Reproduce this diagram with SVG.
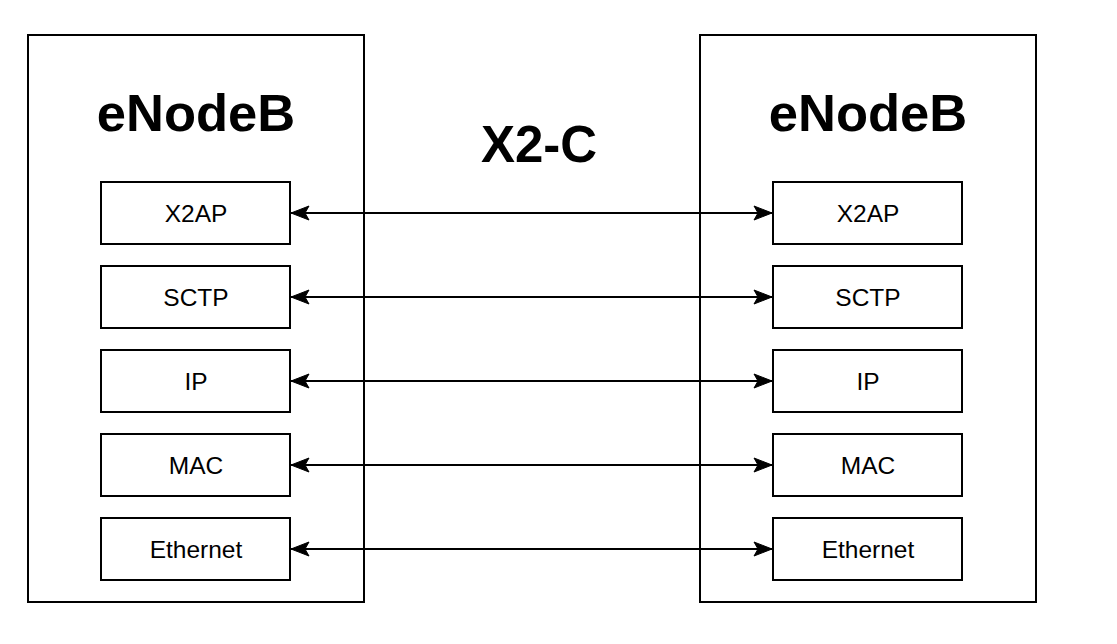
<svg xmlns="http://www.w3.org/2000/svg" width="1117" height="644" viewBox="0 0 1117 644">
<style>
.outer{fill:#fff;stroke:#000;stroke-width:2}
.layer{fill:#fff;stroke:#000;stroke-width:2}
.title{font-family:"Liberation Sans",Arial,sans-serif;font-weight:bold;font-size:52.5px;fill:#000;text-anchor:middle}
.big{font-family:"Liberation Sans",Arial,sans-serif;font-weight:bold;font-size:51px;fill:#000;text-anchor:middle}
.lbl{font-family:"Liberation Sans",Arial,sans-serif;font-size:24.5px;fill:#000;text-anchor:middle;dominant-baseline:central}
.conn{stroke:#000;stroke-width:2;fill:none;marker-start:url(#ah);marker-end:url(#ah)}
</style>
<defs>
<marker id="ah" viewBox="0 0 20 16" refX="19" refY="8" markerWidth="20" markerHeight="16" markerUnits="userSpaceOnUse" orient="auto-start-reverse">
<path d="M1,1 L19,8 L1,15 L5,8 Z" fill="#000" stroke="#000" stroke-width="1"/>
</marker>
</defs>
<rect width="1117" height="644" fill="#fff"/>
<g id="enb-left">
<rect class="outer" x="28" y="35" width="336" height="567"/>
<text class="title" x="196" y="131">eNodeB</text>
</g>
<g id="enb-right">
<rect class="outer" x="700" y="35" width="336" height="567"/>
<text class="title" x="868" y="131">eNodeB</text>
</g>
<g id="x2c-label"><text class="big" x="539" y="162">X2-C</text></g>
<g id="l-x2ap"><rect class="layer" x="101" y="182" width="189" height="62"/><text class="lbl" x="196" y="213">X2AP</text></g>
<g id="l-sctp"><rect class="layer" x="101" y="266" width="189" height="62"/><text class="lbl" x="196" y="297">SCTP</text></g>
<g id="l-ip"><rect class="layer" x="101" y="350" width="189" height="62"/><text class="lbl" x="196" y="381">IP</text></g>
<g id="l-mac"><rect class="layer" x="101" y="434" width="189" height="62"/><text class="lbl" x="196" y="465">MAC</text></g>
<g id="l-eth"><rect class="layer" x="101" y="518" width="189" height="62"/><text class="lbl" x="196" y="549">Ethernet</text></g>
<g id="r-x2ap"><rect class="layer" x="773" y="182" width="189" height="62"/><text class="lbl" x="868" y="213">X2AP</text></g>
<g id="r-sctp"><rect class="layer" x="773" y="266" width="189" height="62"/><text class="lbl" x="868" y="297">SCTP</text></g>
<g id="r-ip"><rect class="layer" x="773" y="350" width="189" height="62"/><text class="lbl" x="868" y="381">IP</text></g>
<g id="r-mac"><rect class="layer" x="773" y="434" width="189" height="62"/><text class="lbl" x="868" y="465">MAC</text></g>
<g id="r-eth"><rect class="layer" x="773" y="518" width="189" height="62"/><text class="lbl" x="868" y="549">Ethernet</text></g>
<g id="connectors">
<line class="conn" x1="291" y1="213" x2="772" y2="213"/>
<line class="conn" x1="291" y1="297" x2="772" y2="297"/>
<line class="conn" x1="291" y1="381" x2="772" y2="381"/>
<line class="conn" x1="291" y1="465" x2="772" y2="465"/>
<line class="conn" x1="291" y1="549" x2="772" y2="549"/>
</g>
</svg>
